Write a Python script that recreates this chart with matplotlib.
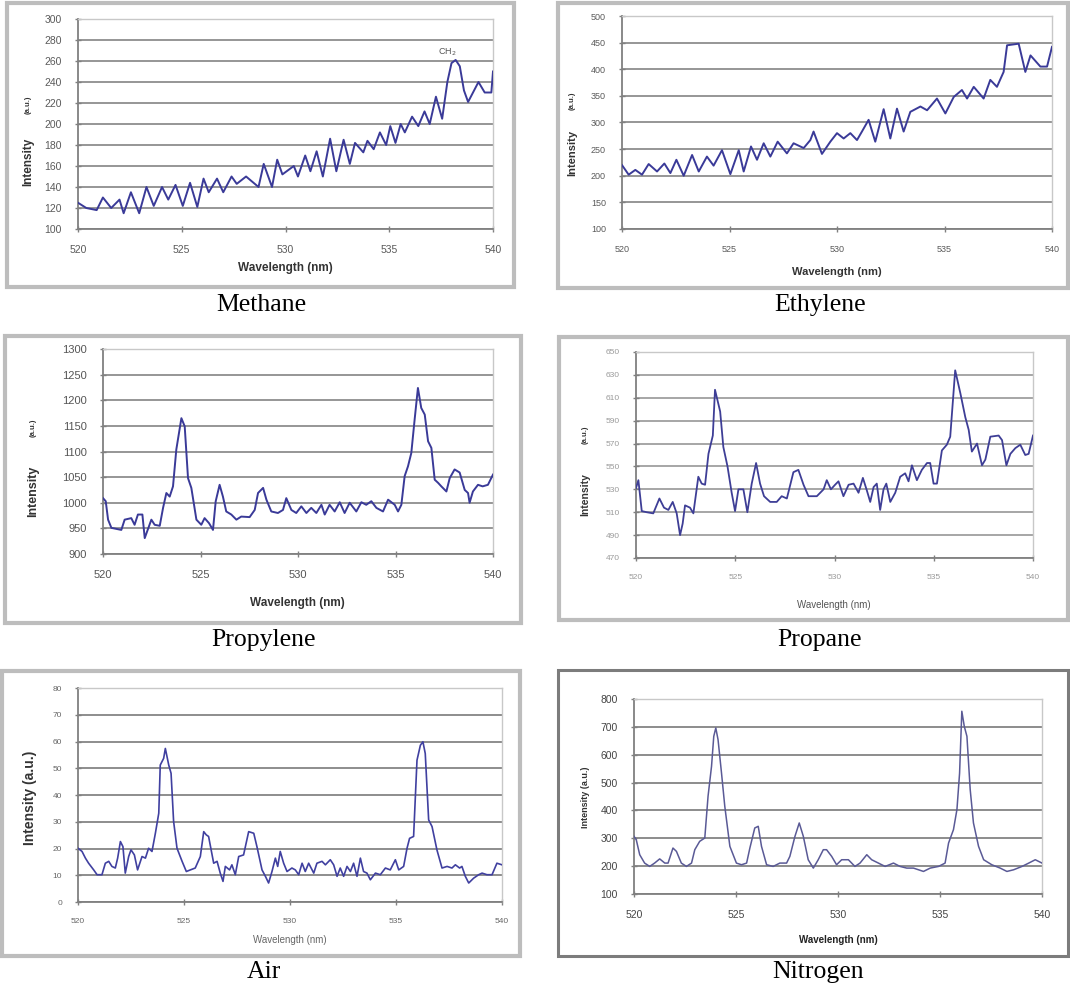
import matplotlib
matplotlib.use('Agg')
import matplotlib.pyplot as plt
from matplotlib.patches import Rectangle

# ---------------- data (wavelength nm, intensity a.u.) ----------------
methane_nm = [520.0, 520.4, 520.9, 521.2, 521.6, 522.0, 522.2, 522.55, 522.95, 523.3, 523.65, 524.05,
              524.35, 524.7, 525.05, 525.4, 525.75, 526.05, 526.3, 526.7, 527.0, 527.4, 527.65, 528.1,
              528.7, 528.95, 529.35, 529.6, 529.85, 530.4, 530.6, 530.95, 531.2, 531.5, 531.8, 532.15,
              532.45, 532.8, 533.1, 533.35, 533.75, 533.95, 534.25, 534.55, 534.85, 535.05, 535.3,
              535.55, 535.75, 536.1, 536.4, 536.7, 536.95, 537.25, 537.55, 537.8, 538.0, 538.2, 538.4,
              538.6, 538.8, 539.3, 539.6, 539.92, 540.0]
methane_int = [125, 120, 118, 130, 120, 128, 115, 135, 115, 140, 122, 140,
               128, 142, 122, 144, 121, 148, 135, 148, 135, 150, 143, 150,
               140, 162, 140, 166, 152, 160, 150, 170, 155, 174, 150, 186,
               155, 185, 162, 182, 173, 184, 176, 192, 180, 198, 182,
               200, 192, 207, 198, 212, 200, 226, 205, 240, 258, 261, 255,
               232, 221, 240, 230, 230, 250]

ethylene_nm = [520.0, 520.31, 520.62, 520.93, 521.24, 521.63, 521.97, 522.25, 522.53, 522.87, 523.26,
               523.57, 523.95, 524.26, 524.65, 525.04, 525.43, 525.66, 526.0, 526.28, 526.59, 526.9,
               527.24, 527.67, 527.98, 528.45, 528.76, 528.91, 529.3, 529.69, 530.0, 530.31, 530.62,
               530.93, 531.16, 531.47, 531.78, 532.17, 532.48, 532.79, 533.1, 533.41, 533.88, 534.19,
               534.65, 535.04, 535.43, 535.81, 536.05, 536.36, 536.82, 537.13, 537.44, 537.75, 537.91,
               538.45, 538.76, 539.0, 539.46, 539.77, 540.0]
ethylene_int = [220, 202, 211, 202, 222, 208, 223, 205, 230, 200, 239,
                208, 236, 219, 248, 203, 248, 208, 255, 230, 261, 236,
                264, 242, 261, 252, 267, 283, 241, 264, 280, 270, 280,
                267, 283, 305, 264, 325, 270, 326, 283, 320, 330, 323,
                345, 317, 348, 361, 345, 367, 345, 380, 367, 395, 445,
                448, 395, 426, 405, 405, 442]

propylene_nm = [520.0, 520.14, 520.26, 520.43, 520.94, 521.11, 521.45, 521.62, 521.79, 522.02, 522.14,
                522.48, 522.65, 522.91, 523.08, 523.25, 523.42, 523.59, 523.76, 524.02, 524.19, 524.36,
                524.53, 524.79, 525.04, 525.21, 525.44, 525.64, 525.78, 525.98, 526.15, 526.32, 526.58,
                526.84, 527.09, 527.52, 527.78, 527.95, 528.21, 528.38, 528.63, 528.97, 529.23, 529.4,
                529.66, 529.91, 530.17, 530.43, 530.68, 530.94, 531.2, 531.37, 531.62, 531.88, 532.14,
                532.39, 532.65, 532.99, 533.25, 533.5, 533.76, 534.02, 534.36, 534.62, 534.96, 535.13,
                535.3, 535.47, 535.64, 535.81, 535.98, 536.15, 536.32, 536.5, 536.67, 536.84, 537.01,
                537.18, 537.35, 537.61, 537.78, 538.03, 538.29, 538.55, 538.72, 538.8, 538.97, 539.23,
                539.47, 539.74, 540.0]
propylene_int = [1009, 1003, 967, 951, 947, 967, 970, 957, 977, 977, 931,
                 967, 957, 955, 990, 1019, 1012, 1032, 1104, 1165, 1149, 1048,
                 1029, 967, 957, 970, 960, 947, 1003, 1035, 1012, 983, 977,
                 967, 973, 972, 986, 1019, 1029, 1006, 983, 980, 986, 1009,
                 986, 980, 993, 980, 990, 980, 996, 977, 996, 983, 1001,
                 980, 1000, 983, 1001, 996, 1003, 990, 983, 1006, 996, 983,
                 996, 1052, 1071, 1097, 1162, 1224, 1185, 1172, 1120, 1107, 1045,
                 1039, 1032, 1022, 1048, 1065, 1059, 1025, 1019, 1000, 1022, 1035,
                 1032, 1035, 1055]

propane_nm = [520.0, 520.12, 520.29, 520.54, 520.87, 521.18, 521.41, 521.63, 521.85, 522.05, 522.22,
              522.35, 522.47, 522.72, 522.89, 523.14, 523.31, 523.48, 523.65, 523.87, 523.98, 524.24,
              524.4, 524.61, 524.82, 524.99, 525.16, 525.41, 525.61, 525.83, 526.05, 526.25, 526.45,
              526.76, 527.09, 527.34, 527.6, 527.93, 528.18, 528.44, 528.69, 529.11, 529.45, 529.61,
              529.82, 530.03, 530.2, 530.45, 530.71, 530.96, 531.21, 531.43, 531.63, 531.8, 531.97,
              532.13, 532.3, 532.47, 532.61, 532.81, 533.06, 533.31, 533.56, 533.73, 533.9, 534.15,
              534.4, 534.66, 534.82, 534.99, 535.16, 535.41, 535.66, 535.83, 536.08, 536.34, 536.59,
              536.76, 536.92, 537.18, 537.43, 537.6, 537.85, 538.27, 538.44, 538.66, 538.86, 539.11,
              539.36, 539.61, 539.78, 540.0]
propane_int = [531, 538, 511, 510, 509, 522, 514, 512, 519, 509, 490,
               500, 516, 514, 509, 541, 535, 534, 561, 577, 617, 598,
               567, 550, 527, 511, 530, 530, 510, 535, 553, 535, 524,
               519, 519, 524, 522, 545, 547, 534, 524, 524, 530, 538,
               530, 534, 537, 524, 534, 535, 527, 540, 529, 519, 532,
               535, 512, 530, 535, 519, 527, 541, 544, 537, 551, 538,
               547, 553, 553, 535, 535, 564, 569, 576, 634, 614, 593,
               582, 563, 570, 551, 556, 576, 577, 573, 551, 561, 566,
               569, 560, 561, 577]

air_nm = [520.0, 520.19, 520.35, 520.5, 520.74, 520.9, 521.13, 521.29, 521.45, 521.6, 521.76, 521.87,
          522.0, 522.12, 522.23, 522.39, 522.5, 522.66, 522.81, 523.02, 523.18, 523.33, 523.49, 523.65,
          523.81, 523.88, 524.04, 524.12, 524.28, 524.39, 524.51, 524.67, 524.91, 525.11, 525.3,
          525.53, 525.77, 525.93, 526.05, 526.16, 526.4, 526.56, 526.71, 526.84, 526.95, 527.15,
          527.26, 527.42, 527.58, 527.81, 528.05, 528.29, 528.44, 528.68, 528.84, 528.99, 529.15,
          529.31, 529.42, 529.54, 529.7, 529.86, 530.09, 530.25, 530.41, 530.57, 530.72, 530.88,
          531.12, 531.27, 531.51, 531.67, 531.9, 532.06, 532.22, 532.37, 532.53, 532.69, 532.85,
          533.0, 533.16, 533.32, 533.47, 533.63, 533.79, 534.03, 534.26, 534.5, 534.73, 534.97,
          535.13, 535.36, 535.52, 535.64, 535.83, 535.99, 536.15, 536.27, 536.38, 536.54, 536.7,
          536.93, 537.17, 537.41, 537.64, 537.8, 538.0, 538.11, 538.27, 538.43, 538.66, 538.9,
          539.06, 539.29, 539.53, 539.76, 540.0]
air_int = [20.1, 18.9, 16.4, 14.5, 12.0, 10.2, 10.2, 14.5, 15.2, 13.3, 12.7, 16.4,
           22.6, 20.7, 10.8, 17.0, 19.5, 17.6, 12.0, 17.0, 16.4, 20.1, 18.9, 25.7,
           33.2, 51.2, 53.7, 57.4, 51.2, 48.1, 30.1, 20.1, 15.2, 11.4, 12.0,
           12.7, 17.0, 26.3, 25.1, 24.5, 14.5, 15.2, 10.8, 7.7, 13.3, 12.0,
           13.9, 10.2, 17.0, 17.6, 26.3, 25.7, 20.7, 12.0, 9.6, 7.1, 11.4,
           16.4, 13.3, 18.9, 14.5, 11.4, 12.7, 12.0, 10.2, 14.5, 11.4, 14.5,
           10.8, 14.5, 15.2, 13.9, 15.8, 13.9, 9.6, 12.7, 9.6, 13.3, 11.4,
           14.5, 9.6, 16.4, 11.4, 10.8, 8.3, 10.8, 10.2, 12.7, 12.0, 15.8,
           12.0, 13.3, 20.1, 23.8, 24.5, 53.0, 58.6, 59.9, 55.5, 30.7, 28.2,
           19.5, 12.7, 13.3, 12.7, 13.9, 12.7, 13.3, 9.6, 7.1, 8.9, 10.2,
           10.8, 10.2, 10.2, 14.5, 13.9]

nitrogen_nm = [520.0, 520.11, 520.28, 520.52, 520.77, 521.01, 521.26, 521.51, 521.67, 521.91, 522.08,
               522.32, 522.57, 522.82, 522.98, 523.22, 523.47, 523.63, 523.8, 523.91, 524.01, 524.12,
               524.29, 524.45, 524.7, 525.02, 525.27, 525.52, 525.68, 525.92, 526.09, 526.25, 526.5,
               526.82, 527.15, 527.48, 527.64, 527.89, 528.1, 528.3, 528.54, 528.79, 529.03, 529.28,
               529.44, 529.69, 529.93, 530.18, 530.51, 530.83, 531.08, 531.41, 531.65, 531.98, 532.31,
               532.72, 533.04, 533.37, 533.7, 534.19, 534.52, 534.93, 535.25, 535.42, 535.66, 535.83,
               535.96, 536.07, 536.19, 536.32, 536.48, 536.64, 536.89, 537.14, 537.54, 537.95, 538.28,
               538.61, 539.02, 539.35, 539.67, 540.0]
nitrogen_int = [307, 295, 241, 211, 199, 211, 226, 211, 211, 265, 253,
                211, 199, 211, 259, 289, 301, 451, 558, 666, 696, 654,
                534, 415, 271, 211, 205, 211, 265, 337, 343, 271, 205,
                199, 211, 211, 235, 307, 355, 307, 223, 193, 223, 259,
                259, 235, 205, 223, 223, 199, 211, 241, 223, 211, 199,
                211, 199, 193, 193, 181, 193, 199, 211, 283, 331, 403,
                534, 756, 702, 666, 475, 355, 271, 223, 205, 193, 181,
                187, 199, 211, 223, 211]

names = ['Methane', 'Ethylene', 'Propylene', 'Propane', 'Air', 'Nitrogen']
x_ticks = [520, 525, 530, 535, 540]
y_ticks = {
    'Methane': [100, 120, 140, 160, 180, 200, 220, 240, 260, 280, 300],
    'Ethylene': [100, 150, 200, 250, 300, 350, 400, 450, 500],
    'Propylene': [900, 950, 1000, 1050, 1100, 1150, 1200, 1250, 1300],
    'Propane': [470, 490, 510, 530, 550, 570, 590, 610, 630, 650],
    'Air': [0, 10, 20, 30, 40, 50, 60, 70, 80],
    'Nitrogen': [100, 200, 300, 400, 500, 600, 700, 800],
}
series = {
    'Methane': (methane_nm, methane_int),
    'Ethylene': (ethylene_nm, ethylene_int),
    'Propylene': (propylene_nm, propylene_int),
    'Propane': (propane_nm, propane_int),
    'Air': (air_nm, air_int),
    'Nitrogen': (nitrogen_nm, nitrogen_int),
}

# ---------------- layout (pixels in the 1070x988 canvas) ----------------
W, H = 1070, 988
fig = plt.figure(figsize=(W / 100, H / 100), dpi=100)
fig.patch.set_facecolor('white')


def fx(px):
    return px / W


def fy(py):
    return 1 - py / H


layout = {
    'Methane':   dict(ax=(78, 19, 493, 229), fr=(7, 3, 514, 287), cap=(261, 305), tfs=7.5, tcol='#5a5a5a',
                      xl=(285, 268, 8.5, 'bold', '#333333'), fcol='#bdbdbd', flw=3.0,
                      lc='#3a3a98', lw=1.4, gc='#8e8e8e', glw=1.3,
                      yl=[('Intensity', 28, 162, 8.5, 'bold'), ('(a.u.)', 28, 105, 5.5, 'bold')]),
    'Ethylene':  dict(ax=(622, 16, 1052, 229), fr=(558, 3, 1068, 288), cap=(820, 305), tfs=6.5, tcol='#5a5a5a',
                      xl=(837, 272, 8.0, 'bold', '#333333'), fcol='#bdbdbd', flw=3.0,
                      lc='#3a3a98', lw=1.4, gc='#8e8e8e', glw=1.3,
                      yl=[('Intensity', 572, 153, 8.0, 'bold'), ('(a.u.)', 572, 101, 5.5, 'bold')]),
    'Propylene': dict(ax=(103, 349, 493, 554), fr=(5, 336, 521, 623), cap=(264, 640), tfs=8.0, tcol='#555555',
                      xl=(297, 603, 8.5, 'bold', '#333333'), fcol='#bdbdbd', flw=3.0,
                      lc='#3a3a98', lw=1.4, gc='#8e8e8e', glw=1.3,
                      yl=[('Intensity', 33, 491, 9.0, 'bold'), ('(a.u.)', 33, 428, 5.5, 'bold')]),
    'Propane':   dict(ax=(636, 352, 1033, 558), fr=(559, 337, 1068, 620), cap=(820, 640), tfs=6.0, tcol='#9a9a9a',
                      xl=(834, 605, 7.0, 'normal', '#555555'), fcol='#bdbdbd', flw=3.0,
                      lc='#3e3e96', lw=1.3, gc='#8e8e8e', glw=1.1,
                      yl=[('Intensity', 585, 495, 7.5, 'bold'), ('(a.u.)', 585, 435, 5.5, 'bold')]),
    'Air':       dict(ax=(78, 688, 502, 902), fr=(2, 671, 520, 956), cap=(264, 972), tfs=6.0, tcol='#666666',
                      xl=(290, 940, 7.0, 'normal', '#666666'), fcol='#bdbdbd', flw=3.0,
                      lc='#4040a0', lw=1.2, gc='#7a7a7a', glw=1.2,
                      yl=[('Intensity (a.u.)', 30, 798, 10.0, 'bold')]),
    'Nitrogen':  dict(ax=(634, 699, 1042, 894), fr=(558, 670, 1068, 956), cap=(818, 972), tfs=7.5, tcol='#444444',
                      xl=(838, 940, 7.0, 'bold', '#222222'), fcol='#7c7c7c', flw=2.2,
                      lc='#5a5a96', lw=1.1, gc='#6e6e6e', glw=1.1,
                      yl=[('Intensity (a.u.)', 585, 797, 6.5, 'bold')]),
}

sans = ['Liberation Sans', 'DejaVu Sans']
serif = ['Liberation Serif', 'DejaVu Serif']

for name in names:
    L = layout[name]
    # outer chart frame
    l, t, r, b = L['fr']
    fig.patches.append(Rectangle((fx(l), fy(b)), fx(r) - fx(l), fy(t) - fy(b), transform=fig.transFigure,
                                 fill=False, edgecolor=L['fcol'], linewidth=L['flw'], zorder=0))
    # plotting area
    l, t, r, b = L['ax']
    ax = fig.add_axes([fx(l), fy(b), fx(r) - fx(l), fy(t) - fy(b)])
    xs, ys = series[name]
    ax.plot(xs, ys, color=L['lc'], linewidth=L['lw'], zorder=3, solid_joinstyle='round')
    yt = y_ticks[name]
    ax.set_xlim(520, 540)
    ax.set_ylim(yt[0], yt[-1])
    ax.set_xticks(x_ticks)
    ax.set_yticks(yt)
    ax.set_xticklabels([str(v) for v in x_ticks])
    ax.set_yticklabels([str(v) for v in yt])
    ax.grid(axis='y', color=L['gc'], linewidth=L['glw'], zorder=1)
    ax.set_axisbelow(True)
    for s in ['top', 'right']:
        ax.spines[s].set_color('#c8c8c8')
        ax.spines[s].set_linewidth(1.0)
    for s in ['left', 'bottom']:
        ax.spines[s].set_color('#808080')
        ax.spines[s].set_linewidth(1.3)
    ax.tick_params(axis='both', direction='inout', length=5, width=1.0, color='#808080',
                   labelsize=L['tfs'], labelcolor=L['tcol'], pad=9)
    for lab in ax.get_xticklabels() + ax.get_yticklabels():
        lab.set_fontfamily(sans)
    # axis titles
    cx, cy, fs, wt, col = L['xl']
    fig.text(fx(cx), fy(cy), 'Wavelength (nm)', ha='center', va='center', fontsize=fs,
             fontweight=wt, color=col, family=sans)
    for txt, px, py, fs, wt in L['yl']:
        fig.text(fx(px), fy(py), txt, ha='center', va='center', rotation=90, fontsize=fs,
                 fontweight=wt, color='#333333', family=sans)
    # caption
    cx, cy = L['cap']
    fig.text(fx(cx), fy(cy), name, ha='center', va='center', fontsize=18.5, family=serif, color='black')
    if name == 'Methane':
        ax.text(537.8, 268, 'CH$_2$', ha='center', va='center', fontsize=6.5, color='#555555', family=sans)

fig.savefig('out.png', dpi=100, facecolor='white')
